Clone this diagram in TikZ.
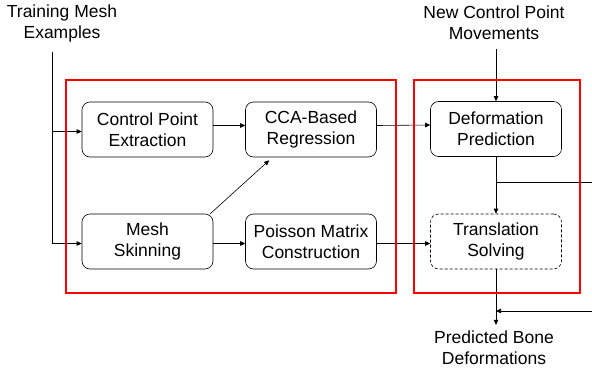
\documentclass[tikz,border=0pt]{standalone}
\usepackage{fontspec}
\setmainfont{Liberation Sans}
\usepackage{tikz}
\usetikzlibrary{arrows.meta,calc}
\definecolor{frame}{HTML}{FF0000}

\begin{document}
\begin{tikzpicture}[x=1bp, y=1bp,
    font=\fontsize{17.5bp}{21bp}\selectfont,
    stage/.style={draw, rounded corners=8bp, align=center, minimum width=131bp,
      minimum height=55bp, inner sep=0pt, line width=0.6bp},
    caption/.style={align=center, inner sep=1bp},
    link/.style={-{Triangle[length=5bp,width=4.5bp]}, line width=0.6bp},
    group/.style={draw=frame, line width=2.5bp}]
  \useasboundingbox (0,0) rectangle (592,374);

  % inputs and output
  \node[caption] (train) at (62,351) {Training Mesh\\Examples};
  \node[caption] (moves) at (494,351) {New Control Point\\Movements};
  \node[caption] (bones) at (494,26) {Predicted Bone\\Deformations};

  % training stages
  \node[stage] (cpe) at (147.5,244.5) {Control Point\\Extraction};
  \node[stage] (cca) at (311,244.5) {CCA-Based\\Regression};
  \node[stage] (skin) at (147.5,132.5) {Mesh\\Skinning};
  \node[stage] (poisson) at (311,132.5) {Poisson Matrix\\Construction};

  % runtime stages
  \node[stage] (pred) at (496,245) {Deformation\\Prediction};
  \node[stage, dashed, dash pattern=on 3bp off 2bp] (solve) at (496,132.5) {Translation\\Solving};

  % training flow
  \coordinate (trunk) at (52,322);
  \draw[link] (trunk) |- ([yshift=-2bp]cpe.west);
  \draw[link] (trunk) |- ([yshift=-2bp]skin.west);
  \draw[link] ([yshift=4bp]cpe.east) -- ([yshift=4bp]cca.west);
  \draw[link] ([xshift=-3bp]skin.north east) -- ([xshift=24bp,yshift=-3bp]cca.south west);
  \draw[link] ([yshift=-2bp]skin.east) -- ([yshift=-2bp]poisson.west);

  % into the runtime part
  \draw[link] ([yshift=4bp]cca.east) -- ([yshift=4bp]pred.west);
  \draw[link] ([yshift=-2bp]poisson.east) -- ([yshift=-2bp]solve.west);
  \draw[link, shorten <=8bp] (moves.south -| pred.north) -- (pred.north);
  \draw[link] (pred.south) -- (solve.north);
  \draw[link, shorten >=5bp] (solve.south) -- (solve.south |- bones.north);

  % side branches leaving the page
  \coordinate (tap) at ($(pred.south)!0.44!(solve.north)$);
  \coordinate (offR) at (592,192);
  \draw[line width=0.6bp] (tap) -- (tap -| offR);
  \coordinate (back) at (592,63);
  \draw[link] (back) -- (back -| solve.south);

  % grouping frames
  \draw[group] (66,81) rectangle (396,294);
  \draw[group] (414,81) rectangle (580,294);
\end{tikzpicture}
\end{document}
